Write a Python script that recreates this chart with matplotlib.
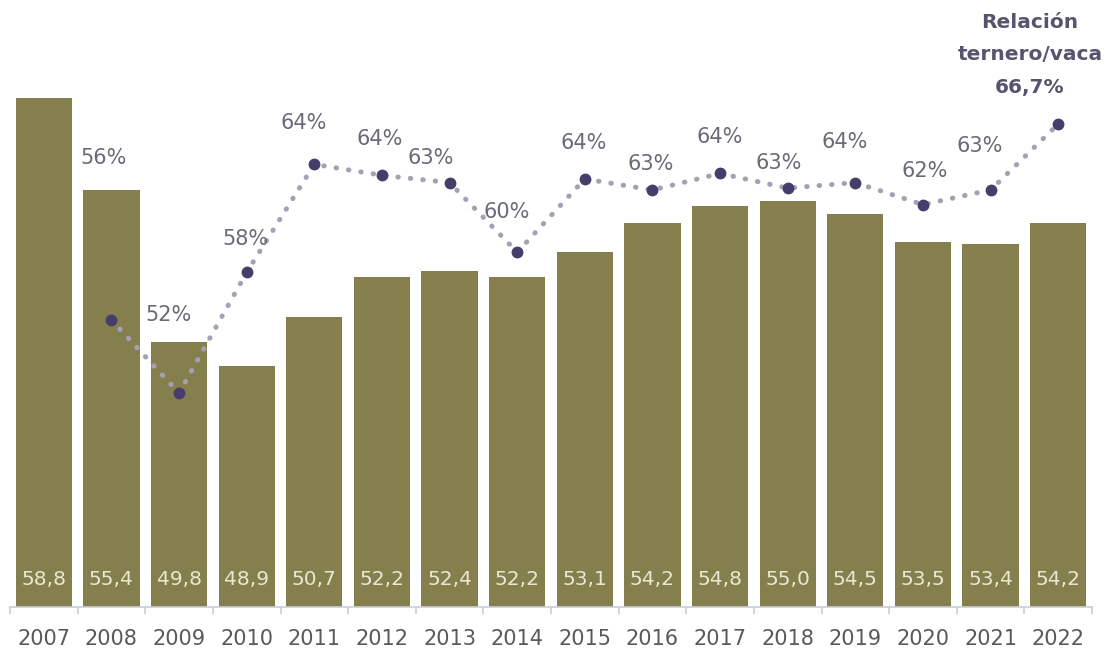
import matplotlib
matplotlib.use("Agg")
import matplotlib.pyplot as plt
import numpy as np

years = ["2007", "2008", "2009", "2010", "2011", "2012", "2013", "2014",
         "2015", "2016", "2017", "2018", "2019", "2020", "2021", "2022"]
bar_values = [58.8, 55.4, 49.8, 48.9, 50.7, 52.2, 52.4, 52.2,
              53.1, 54.2, 54.8, 55.0, 54.5, 53.5, 53.4, 54.2]
bar_labels = ["58,8", "55,4", "49,8", "48,9", "50,7", "52,2", "52,4", "52,2",
              "53,1", "54,2", "54,8", "55,0", "54,5", "53,5", "53,4", "54,2"]
ratio_years = years[1:]
ratio_values = [56.0, 52.0, 58.6, 64.5, 63.9, 63.5, 59.7, 63.7,
                63.1, 64.0, 63.2, 63.5, 62.3, 63.1, 66.7]
ratio_labels = ["56%", "52%", "58%", "64%", "64%", "63%", "60%", "64%",
                "63%", "64%", "63%", "64%", "62%", "63%", None]
title_lines = ["Relación", "ternero/vaca", "66,7%"]

# label offsets in pixels (layout only)
label_offsets = [(-8, 162), (-11, 78), (-1, 33), (-11, 41), (-2, 36), (-19, 25),
                 (-11, 40), (-1, 36), (-2, 26), (0, 36), (-9, 25), (-11, 41),
                 (2, 34), (-11, 44), (0, 0)]

W, H = 1113, 655
fig = plt.figure(figsize=(W / 100, H / 100), dpi=100)
ax = fig.add_axes([10 / W, 48 / H, 1082 / W, 607 / H])

FONT = "DejaVu Sans"
bar_color = "#857f4e"
x = np.arange(len(years))
ax.bar(x, bar_values, width=0.83, color=bar_color, zorder=2)
ax.set_xlim(-0.5, len(years) - 0.5)
ax.set_ylim(40, 62.42)

for xi, lab in zip(x, bar_labels):
    ax.annotate(lab, (xi, 40), xytext=(0, 27), textcoords="offset pixels",
                ha="center", va="center", fontsize=14.5, color="#ebe7cf",
                family=FONT, zorder=5)

for s in ["top", "right", "left"]:
    ax.spines[s].set_visible(False)
ax.spines["bottom"].set_color("#c9cdd8")
ax.spines["bottom"].set_linewidth(1.2)
ax.set_yticks([])
ax.set_xticks(x)
ax.set_xticklabels(years, fontsize=15, color="#595959", family=FONT)
ax.tick_params(axis="x", which="major", length=0, pad=16)
ax.set_xticks(np.arange(-0.5, len(years)), minor=True)
ax.tick_params(axis="x", which="minor", length=5, color="#c9cdd8", width=1.2)

ax2 = ax.twinx()
ax2.set_ylim(40.31, 73.48)
for s in ax2.spines.values():
    s.set_visible(False)
ax2.set_yticks([])
xr = x[1:]
ax2.plot(xr, ratio_values, linestyle=(0, (0.1, 2.4)), dash_capstyle="round",
         color="#a4a1b4", linewidth=3.6, zorder=3)
ax2.plot(xr, ratio_values, linestyle="none", marker="o", markersize=7.5,
         color="#463d6b", zorder=4)

for xi, v, lab, off in zip(xr, ratio_values, ratio_labels, label_offsets):
    if lab is None:
        continue
    ax2.annotate(lab, (xi, v), xytext=off, textcoords="offset pixels",
                 ha="center", va="center", fontsize=15, color="#6a6a78",
                 family=FONT, zorder=5)

for i, line in enumerate(title_lines):
    fig.text(1030 / W, 1 - (22 + 33 * i) / H, line, ha="center", va="center",
             fontsize=14.5, fontweight="bold", color="#58536f", family=FONT)

fig.savefig("out.png", dpi=100)
